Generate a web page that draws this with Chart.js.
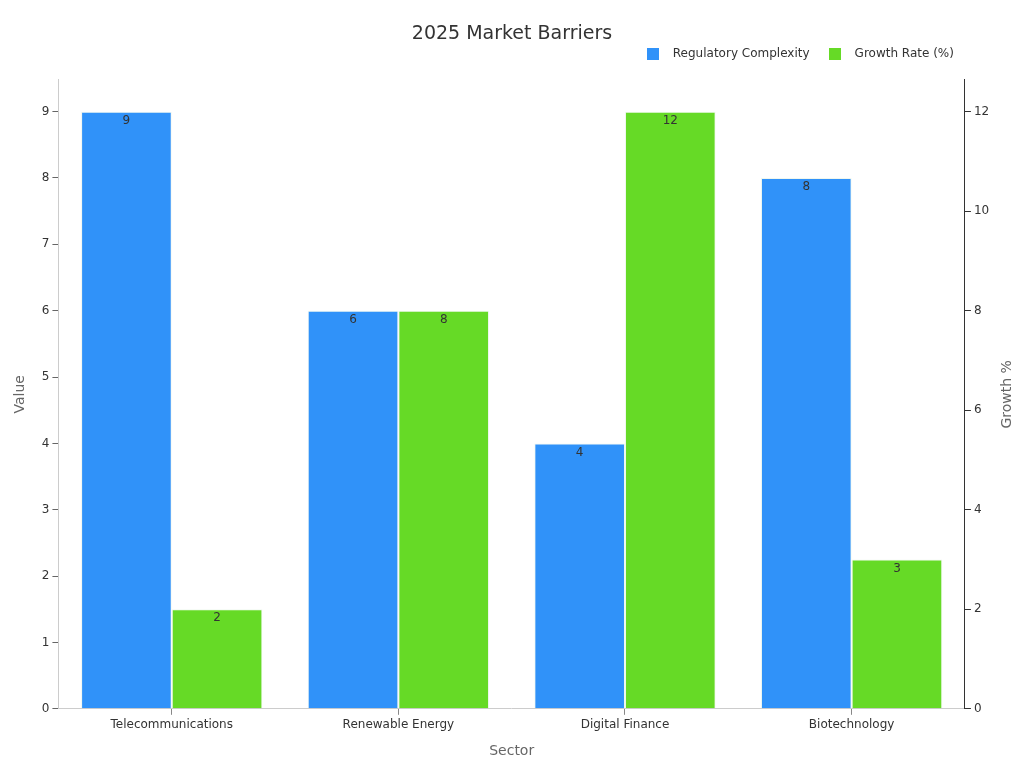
<!DOCTYPE html>
<html>
<head>
<meta charset="utf-8">
<script src="https://cdn.jsdelivr.net/npm/chart.js@4.4.1/dist/chart.umd.min.js"></script>
<style>
  html, body { margin: 0; padding: 0; background: #fff; }
  #wrap { width: 1024px; height: 768px; }
</style>
</head>
<body>
<div id="wrap"><canvas id="chart"></canvas></div>
<script>
// chart data
const sectors = ["Telecommunications", "Renewable Energy", "Digital Finance", "Biotechnology"];
const regulatory = [9, 6, 4, 8];
const growth = [2, 8, 12, 3];

const BLUE = "#3092f9";
const GREEN = "#66da26";

Chart.defaults.font.family = "'DejaVu Sans', sans-serif";
Chart.defaults.color = "#333";

// square legend swatch, drawn as a point style
function swatch(color) {
  const c = document.createElement("canvas");
  c.width = 12;
  c.height = 12;
  const g = c.getContext("2d");
  g.fillStyle = color;
  g.fillRect(0, 0, 12, 12);
  return c;
}

// value labels just under the top of each bar + right axis title
const extras = {
  id: "extras",
  afterDatasetsDraw(chart) {
    const ctx = chart.ctx;
    ctx.save();
    ctx.font = "12px 'DejaVu Sans', sans-serif";
    ctx.fillStyle = "#333";
    ctx.textAlign = "center";
    ctx.textBaseline = "middle";
    chart.data.datasets.forEach((ds, i) => {
      chart.getDatasetMeta(i).data.forEach((bar, j) => {
        ctx.fillText(ds.data[j], bar.x, bar.y + 9);
      });
    });
    ctx.restore();

    // right axis title, reading bottom to top like the left one
    const area = chart.chartArea;
    ctx.save();
    ctx.font = "14px 'DejaVu Sans', sans-serif";
    ctx.fillStyle = "#666";
    ctx.textAlign = "center";
    ctx.textBaseline = "middle";
    ctx.translate(chart.width - 16.4, (area.top + area.bottom) / 2);
    ctx.rotate(-Math.PI / 2);
    ctx.fillText("Growth %", 0, 0);
    ctx.restore();
  },
};

const onlyWhole = (scale) => {
  scale.ticks = scale.ticks.filter((t) => Number.isInteger(t.value));
};

const ctx = document.getElementById("chart").getContext("2d");
const chart = new Chart(ctx, {
  type: "bar",
  data: {
    labels: sectors,
    datasets: [
      {
        label: "Regulatory Complexity",
        data: regulatory,
        backgroundColor: BLUE,
        borderColor: "rgba(235,245,235,0.8)",
        borderWidth: 1,
        pointStyle: swatch(BLUE),
        yAxisID: "y",
      },
      {
        label: "Growth Rate (%)",
        data: growth,
        backgroundColor: GREEN,
        borderColor: "rgba(235,245,235,0.8)",
        borderWidth: 1,
        pointStyle: swatch(GREEN),
        yAxisID: "y1",
      },
    ],
  },
  options: {
    responsive: true,
    maintainAspectRatio: false,
    animation: false,
    layout: { padding: { left: 8, right: 8, top: 10, bottom: 4 } },
    datasets: { bar: { categoryPercentage: 0.8, barPercentage: 1.0 } },
    plugins: {
      title: {
        display: true,
        text: "2025 Market Barriers",
        font: { size: 19, weight: "normal" },
        color: "#333",
        padding: { top: 13, bottom: -9 },
      },
      // empty spacer between legend and plot
      subtitle: {
        display: true,
        text: "",
        weight: 500,
        font: { size: 10, lineHeight: 1 },
        padding: 0,
      },
      legend: {
        align: "end",
        fullSize: false,
        labels: {
          usePointStyle: true,
          pointStyleWidth: 28,
          boxHeight: 12,
          padding: 11,
          font: { size: 12 },
          color: "#333",
        },
      },
      tooltip: { enabled: false },
    },
    scales: {
      x: {
        grid: { display: true, drawOnChartArea: false, offset: false, tickLength: 6, color: "#888" },
        border: { color: "#ccc" },
        ticks: { font: { size: 12 }, color: "#333" },
        title: { display: true, text: "Sector", font: { size: 14 }, color: "#666", padding: { top: 8 } },
      },
      y: {
        position: "left",
        min: 0,
        max: 9.48,
        afterBuildTicks: onlyWhole,
        grid: { drawOnChartArea: false, tickLength: 6, color: "#666" },
        border: { color: "#ccc" },
        ticks: { stepSize: 1, font: { size: 12 }, color: "#333", padding: 3 },
        title: { display: true, text: "Value", font: { size: 14 }, color: "#666", padding: { bottom: 10 } },
      },
      y1: {
        position: "right",
        min: 0,
        max: 12.64,
        afterBuildTicks: onlyWhole,
        grid: { drawOnChartArea: false, tickLength: 6, color: "#333" },
        border: { color: "#333" },
        ticks: { stepSize: 2, font: { size: 12 }, color: "#333", padding: 3 },
        // space holder only; the visible title is drawn by the extras plugin
        title: { display: true, text: "Growth %", font: { size: 14 }, color: "rgba(0,0,0,0)", padding: { top: 0, bottom: 7 } },
      },
    },
  },
  plugins: [extras],
});
</script>
</body>
</html>
